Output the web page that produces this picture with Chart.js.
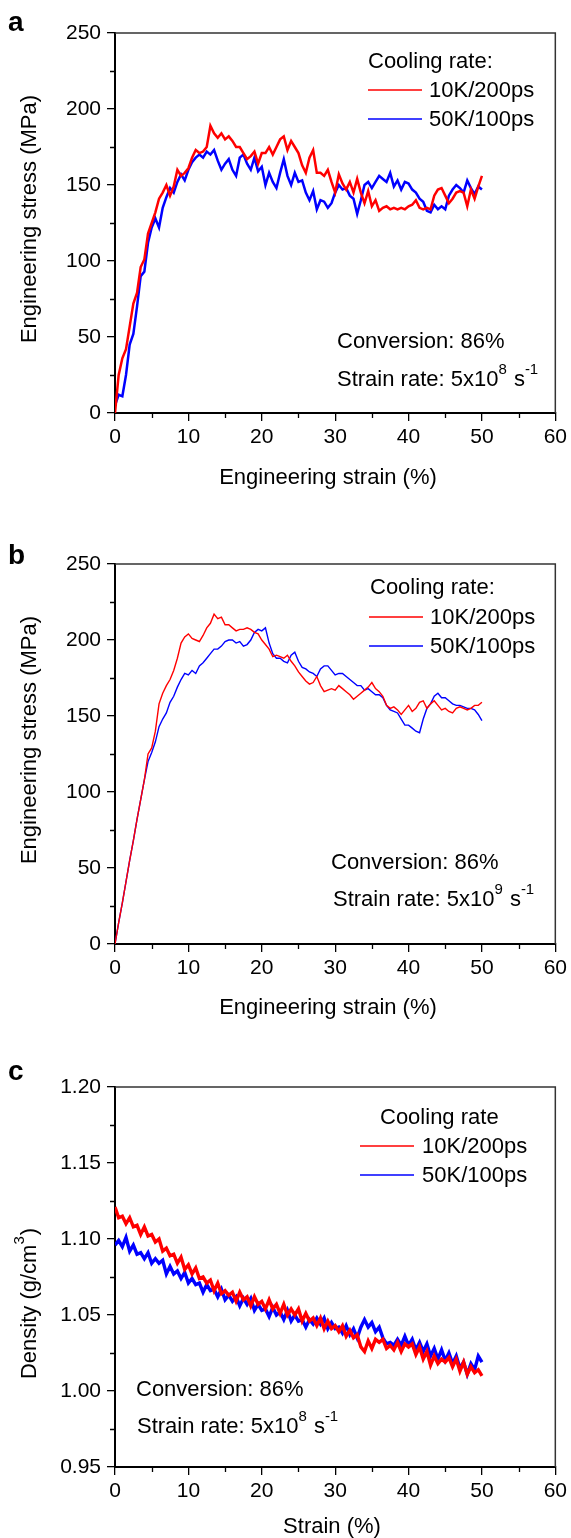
<!DOCTYPE html>
<html>
<head>
<meta charset="utf-8">
<script src="https://cdn.jsdelivr.net/npm/chart.js@4.4.1/dist/chart.umd.min.js"></script>
<style>
  body { margin: 0; background: #fff; }
  #wrap { position: relative; width: 571px; height: 1538px; }
  canvas { position: absolute; left: 0; }
</style>
</head>
<body>
<div id="wrap">
  <canvas id="panelA" width="571" height="500" style="top:0px"></canvas>
  <canvas id="panelB" width="571" height="520" style="top:500px"></canvas>
  <canvas id="panelC" width="571" height="518" style="top:1020px"></canvas>
</div>
<script>
// strain axis (%), shared by all curves
const strain = [0,0.5,1,1.5,2,2.5,3,3.5,4,4.5,5,5.5,6,6.5,7,7.5,8,8.5,9,9.5,
  10,10.5,11,11.5,12,12.5,13,13.5,14,14.5,15,15.5,16,16.5,17,17.5,18,18.5,19,19.5,
  20,20.5,21,21.5,22,22.5,23,23.5,24,24.5,25,25.5,26,26.5,27,27.5,28,28.5,29,29.5,
  30,30.5,31,31.5,32,32.5,33,33.5,34,34.5,35,35.5,36,36.5,37,37.5,38,38.5,39,39.5,
  40,40.5,41,41.5,42,42.5,43,43.5,44,44.5,45,45.5,46,46.5,47,47.5,48,48.5,49,49.5,50];

const seriesNames = ["10K/200ps", "50K/100ps"];

// panel a - stress (MPa), strain rate 5x10^8
const stressA10K = [0,25,36,42,57,72,79,96,101,118,125,132,141,145,150,143,149,160,156,158,
  161,168,173,171,172,175,189,184,181,184,180,182,179,175,175,171,167,169,172,164,
  171,171,175,170,175,180,182,173,179,175,171,163,158,168,173,158,158,156,160,152,
  145,157,151,147,152,145,154,145,138,146,136,140,133,135,136,134,135,134,135,134,
  136,137,140,135,134,135,134,143,147,148,143,138,141,145,146,145,136,147,141,149,156];
const stressA50K = [5,12,11,25,45,52,70,90,93,112,122,128,122,135,142,148,145,152,157,153,
  160,165,168,170,168,172,170,173,166,160,164,167,160,156,168,170,164,160,168,159,
  162,150,158,152,148,158,167,156,150,158,152,153,145,140,146,134,140,139,135,138,
  145,150,147,148,143,141,131,140,150,152,148,152,156,154,152,158,149,153,147,152,
  151,147,145,141,139,133,132,137,134,136,134,143,147,150,148,145,153,148,144,149,147];

// panel b - stress (MPa), strain rate 5x10^9
const stressB10K = [0,14,27,41,55,68,82,95,108,125,129,140,158,165,170,174,180,188,198,202,
  204,201,200,199,203,208,211,217,214,215,210,210,208,206,207,207,208,207,205,204,
  200,197,194,189,190,189,188,190,186,183,179,176,173,171,172,176,170,166,167,168,
  167,170,168,166,164,161,163,165,167,169,172,168,166,163,157,155,156,154,151,154,
  157,153,155,159,160,155,158,160,157,154,155,153,152,155,156,155,154,155,157,157,159];
const stressB50K = [0,14,27,41,55,68,82,95,108,120,126,133,143,148,152,159,163,169,174,178,
  177,180,178,183,185,188,191,194,194,196,199,200,200,198,199,196,197,200,205,207,
  206,208,198,191,188,188,186,185,190,192,186,182,181,179,178,176,181,183,183,180,
  177,178,178,176,174,172,170,170,167,168,166,164,164,162,157,154,153,152,148,144,
  144,142,140,139,148,155,158,163,165,162,162,160,158,157,157,156,155,155,154,151,147];

// panel c - density (g/cm3)
const densC10K = [1.121,1.114,1.115,1.110,1.114,1.108,1.109,1.103,1.108,1.102,1.103,1.098,1.100,1.092,1.094,1.089,1.090,1.084,1.088,1.080,
  1.083,1.077,1.081,1.074,1.075,1.071,1.073,1.066,1.071,1.064,1.066,1.063,1.065,1.059,1.065,1.060,1.062,1.056,1.062,1.057,
  1.059,1.054,1.060,1.054,1.057,1.051,1.057,1.050,1.054,1.050,1.054,1.046,1.051,1.046,1.048,1.043,1.048,1.041,1.046,1.041,
  1.043,1.039,1.043,1.036,1.040,1.035,1.037,1.029,1.026,1.033,1.028,1.034,1.032,1.034,1.028,1.030,1.027,1.032,1.026,1.031,
  1.029,1.031,1.024,1.029,1.021,1.026,1.017,1.023,1.018,1.021,1.019,1.022,1.016,1.021,1.013,1.019,1.011,1.016,1.012,1.014,1.010];
const densC50K = [1.096,1.099,1.095,1.101,1.092,1.096,1.090,1.091,1.087,1.091,1.084,1.087,1.084,1.086,1.077,1.082,1.077,1.079,1.074,1.078,
  1.071,1.074,1.070,1.071,1.065,1.070,1.066,1.067,1.062,1.067,1.060,1.063,1.059,1.062,1.056,1.061,1.057,1.061,1.053,1.057,
  1.053,1.054,1.049,1.055,1.050,1.052,1.047,1.053,1.046,1.050,1.046,1.047,1.042,1.047,1.044,1.048,1.044,1.048,1.041,1.045,
  1.041,1.042,1.038,1.043,1.037,1.041,1.035,1.042,1.047,1.042,1.045,1.039,1.042,1.035,1.031,1.032,1.030,1.034,1.030,1.036,
  1.030,1.034,1.027,1.032,1.026,1.031,1.023,1.028,1.021,1.027,1.020,1.025,1.018,1.023,1.015,1.019,1.011,1.018,1.014,1.023,1.019];

const xMinorTicks = [5, 15, 25, 35, 45, 55];
const stressMinorTicks = [25, 75, 125, 175, 225];
const densMinorTicks = [0.975, 1.025, 1.075, 1.125, 1.175];

const RED = "#ff0000";
const BLUE = "#0000ff";
const FONT = "'Liberation Sans', Arial, sans-serif";

function pts(ys) {
  return strain.map((x, i) => ({ x: x, y: ys[i] }));
}

// draws a run of text pieces, some of them raised as superscripts
function richWidth(ctx, parts, size) {
  let w = 0;
  for (const p of parts) {
    ctx.font = (p.sup ? Math.round(size * 0.7) : size) + "px " + FONT;
    w += ctx.measureText(p.t).width;
  }
  return w;
}
function drawRich(ctx, parts, x, y, size) {
  ctx.textBaseline = "middle";
  ctx.textAlign = "left";
  for (const p of parts) {
    const s = p.sup ? Math.round(size * 0.7) : size;
    ctx.font = s + "px " + FONT;
    ctx.fillText(p.t, x, p.sup ? y - size * 0.45 : y);
    x += ctx.measureText(p.t).width + (p.sup ? 1 : 0);
  }
}

const decorPlugin = {
  id: "decor",
  afterDraw(chart, args, o) {
    const ctx = chart.ctx;
    const a = chart.chartArea;
    const xs = chart.scales.x, ys = chart.scales.y;
    ctx.save();
    ctx.fillStyle = "#000";

    // top / right frame
    ctx.strokeStyle = "#333";
    ctx.lineWidth = 1.5;
    ctx.beginPath();
    ctx.moveTo(a.left, a.top); ctx.lineTo(a.right, a.top); ctx.lineTo(a.right, a.bottom);
    ctx.stroke();

    // minor ticks
    ctx.strokeStyle = "#000";
    ctx.lineWidth = 1.3;
    ctx.beginPath();
    for (const v of o.xMinor) {
      const px = Math.round(xs.getPixelForValue(v)) + 0.5;
      ctx.moveTo(px, a.bottom); ctx.lineTo(px, a.bottom + 5);
    }
    for (const v of o.yMinor) {
      const py = Math.round(ys.getPixelForValue(v)) + 0.5;
      ctx.moveTo(a.left - 5, py); ctx.lineTo(a.left, py);
    }
    ctx.stroke();

    // panel letter
    ctx.font = "bold 28px " + FONT;
    ctx.textAlign = "left";
    ctx.textBaseline = "alphabetic";
    ctx.fillText(o.letter, 8, o.letterY);

    // axis titles
    const tw = richWidth(ctx, o.xTitle, 22);
    drawRich(ctx, o.xTitle, o.xTitlePos[0] - tw / 2, o.xTitlePos[1], 22);
    ctx.save();
    ctx.translate(o.yTitlePos[0], o.yTitlePos[1]);
    ctx.rotate(-Math.PI / 2);
    const yw = richWidth(ctx, o.yTitle, 22);
    drawRich(ctx, o.yTitle, -yw / 2, 0, 22);
    ctx.restore();

    // legend
    drawRich(ctx, [{ t: o.legendTitle }], o.legendTitlePos[0], o.legendTitlePos[1], 22);
    chart.data.datasets.forEach((ds, i) => {
      const ly = o.legendY[i];
      ctx.strokeStyle = ds.borderColor;
      ctx.lineWidth = 1.6;
      ctx.beginPath();
      ctx.moveTo(o.legendLine[0], ly); ctx.lineTo(o.legendLine[1], ly);
      ctx.stroke();
      ctx.fillStyle = "#000";
      drawRich(ctx, [{ t: ds.label }], o.legendText, ly + 1, 22);
    });

    // notes
    o.notes.forEach(n => drawRich(ctx, n.parts, n.x, n.y, 22));
    ctx.restore();
  }
};

function makePanel(id, p) {
  const canvas = document.getElementById(id);
  const H = canvas.height;
  return new Chart(canvas, {
    type: "line",
    data: {
      datasets: [
        { label: seriesNames[0], data: pts(p.red), borderColor: RED, borderWidth: p.lw, pointRadius: 0, tension: 0 },
        { label: seriesNames[1], data: pts(p.blue), borderColor: BLUE, borderWidth: p.lw, pointRadius: 0, tension: 0 }
      ]
    },
    options: {
      responsive: false,
      animation: false,
      events: [],
      layout: { padding: { left: 0, right: 14, top: p.plotTop, bottom: 0 } },
      plugins: { legend: { display: false }, tooltip: { enabled: false }, decor: p.decor },
      scales: {
        x: {
          type: "linear", min: 0, max: 60,
          ticks: { stepSize: 10, autoSkip: false, maxRotation: 0, color: "#000", padding: 4,
                   font: { family: FONT, size: 21 } },
          grid: { drawOnChartArea: false, tickLength: 8, color: "#000", lineWidth: 1.3 },
          border: { display: true, color: "#000", width: 2 },
          afterFit: s => { s.height = H - p.plotBottom; }
        },
        y: {
          type: "linear", min: p.yMin, max: p.yMax,
          ticks: { stepSize: p.yStep, autoSkip: false, color: "#000", padding: 6,
                   font: { family: FONT, size: 21 }, callback: p.yFmt },
          grid: { drawOnChartArea: false, tickLength: 8, color: "#000", lineWidth: 1.3 },
          border: { display: true, color: "#000", width: 2 },
          afterFit: s => { s.width = 115; }
        }
      }
    },
    plugins: [decorPlugin]
  });
}

const stressTitle = [{ t: "Engineering stress (MPa)" }];
const engStrainTitle = [{ t: "Engineering strain (%)" }];
const conversion = [{ t: "Conversion: 86%" }];

makePanel("panelA", {
  red: stressA10K, blue: stressA50K, lw: 2.5,
  plotTop: 33, plotBottom: 413, yMin: 0, yMax: 250, yStep: 50, yFmt: v => v,
  decor: {
    letter: "a", letterY: 31, xMinor: xMinorTicks, yMinor: stressMinorTicks,
    xTitle: engStrainTitle, xTitlePos: [328, 478],
    yTitle: stressTitle, yTitlePos: [30, 219],
    legendTitle: "Cooling rate:", legendTitlePos: [368, 62],
    legendLine: [368, 422], legendText: 429, legendY: [90, 119],
    notes: [
      { parts: conversion, x: 337, y: 342 },
      { parts: [{ t: "Strain rate: 5x10" }, { t: "8", sup: true }, { t: " s" }, { t: "-1", sup: true }], x: 337, y: 380 }
    ]
  }
});

makePanel("panelB", {
  red: stressB10K, blue: stressB50K, lw: 1.4,
  plotTop: 64, plotBottom: 444, yMin: 0, yMax: 250, yStep: 50, yFmt: v => v,
  decor: {
    letter: "b", letterY: 64, xMinor: xMinorTicks, yMinor: stressMinorTicks,
    xTitle: engStrainTitle, xTitlePos: [328, 508],
    yTitle: stressTitle, yTitlePos: [30, 240],
    legendTitle: "Cooling rate:", legendTitlePos: [370, 88],
    legendLine: [369, 423], legendText: 430, legendY: [117, 146],
    notes: [
      { parts: conversion, x: 331, y: 363 },
      { parts: [{ t: "Strain rate: 5x10" }, { t: "9", sup: true }, { t: " s" }, { t: "-1", sup: true }], x: 333, y: 400 }
    ]
  }
});

makePanel("panelC", {
  red: densC10K, blue: densC50K, lw: 3.4,
  plotTop: 67, plotBottom: 447, yMin: 0.95, yMax: 1.2, yStep: 0.05, yFmt: v => Number(v).toFixed(2),
  decor: {
    letter: "c", letterY: 60, xMinor: xMinorTicks, yMinor: densMinorTicks,
    xTitle: [{ t: "Strain (%)" }], xTitlePos: [332, 507],
    yTitle: [{ t: "Density (g/cm" }, { t: "3", sup: true }, { t: ")" }], yTitlePos: [30, 284],
    legendTitle: "Cooling rate", legendTitlePos: [380, 98],
    legendLine: [360, 414], legendText: 422, legendY: [126, 155],
    notes: [
      { parts: conversion, x: 136, y: 370 },
      { parts: [{ t: "Strain rate: 5x10" }, { t: "8", sup: true }, { t: " s" }, { t: "-1", sup: true }], x: 137, y: 407 }
    ]
  }
});
</script>
</body>
</html>
